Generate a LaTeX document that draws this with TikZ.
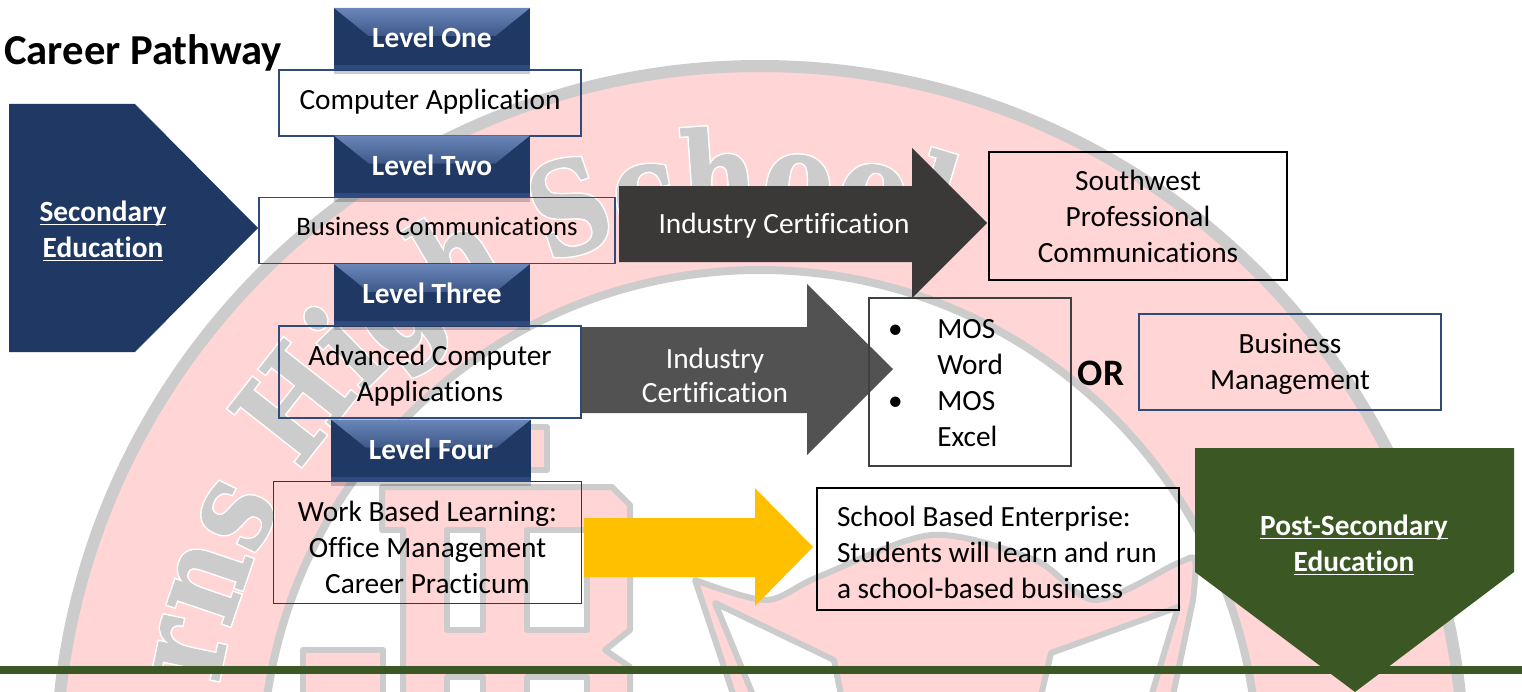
\documentclass[tikz,border=0pt]{standalone}
\usepackage{fontspec}
\setmainfont[Ligatures=NoCommon]{Carlito}
\newfontfamily\crestfont[FakeStretch=0.82,FakeBold=0.6]{DejaVu Serif Bold}
\newfontfamily\cresthalo[FakeStretch=0.82,FakeBold=3]{DejaVu Serif Bold}
\usetikzlibrary{positioning,shadows,decorations.text}
\definecolor{navy}{HTML}{1F3864}
\definecolor{navyline}{HTML}{2F4B7C}
\definecolor{navytop}{HTML}{6A86BA}
\definecolor{navylow}{HTML}{2E4A80}
\definecolor{forest}{HTML}{3B5724}
\definecolor{certdark}{HTML}{3B3838}
\definecolor{certmid}{HTML}{525252}
\definecolor{certgold}{HTML}{FFC000}
\definecolor{crestpink}{HTML}{FFD5D5}
\definecolor{crestgrey}{HTML}{CCCCCC}
\newcommand{\ulword}[1]{\setbox0=\hbox{#1}\rlap{\rule[-3pt]{\wd0}{1.3pt}}\box0}
\newcommand{\shifted}[2]{\raisebox{#1}[0pt][0pt]{\begin{tabular}{@{}c@{}}#2\end{tabular}}}
\newcommand{\shiftedl}[2]{\raisebox{#1}[0pt][0pt]{\begin{tabular}{@{}l@{}}#2\end{tabular}}}
\tikzset{
crest/.style={draw=crestgrey, line width=4.5pt, fill=crestpink, line join=round},
hole/.style={draw=crestgrey, line width=4.5pt, fill=white, line join=round},
pathbox/.style 2 args={
  draw=#1,
  line width=0.8pt,
  align=center,
  inner sep=0pt,
  font=\fontsize{22}{27}\selectfont,
  text=black,
  minimum width=#2
  },
high/.style={minimum height=#1},
levelbox/.style={
  rectangle,
  fill=navy,
  inner sep=0pt,
  text=white,
  font=\bfseries\fontsize{22}{27}\selectfont,
  minimum width=147pt,
  minimum height=46.5pt,
  drop shadow={shadow xshift=0pt, shadow yshift=-3pt, opacity=0.2, fill=black},
  path picture={
    \shade[top color=navytop, bottom color=navy, middle color=navytop!35!navy]
      (path picture bounding box.north west) -- (path picture bounding box.north east)
      -- ([shift={(-26pt,-21pt)}]path picture bounding box.north east)
      -- ([shift={(26pt,-21pt)}]path picture bounding box.north west) -- cycle;
    \fill[navylow] (path picture bounding box.south west) rectangle ([yshift=3.5pt]path picture bounding box.south east);
  }
  },
labelwhite/.style={text=white, align=center, inner sep=0pt, font=\fontsize{22}{25.5}\selectfont},
edutext/.style={text=white, align=center, inner sep=0pt, font=\bfseries\fontsize{22}{27}\selectfont}
}

\begin{document}
\begin{tikzpicture}[x=0.75pt,y=0.75pt,yscale=-1,xscale=1]
\useasboundingbox (0,0) rectangle (1522,692);
\fill[white] (0,0) rectangle (1522,692);

% crest behind the chart
\begin{scope}
\clip (0,0) rectangle (1522,692);
\draw[crest, line width=9pt] (760,770) circle [radius=704];
\draw[hole, line width=6pt] (760,768) circle [radius=498];

\draw[crest] plot [smooth] coordinates {(695,580) (766,600) (818,577) (932,535) (1035,560) (1095,600) (1178,563) (1195,560) (1193,600)} -- (1172,700) -- (735,700) -- cycle;
\draw[hole] (715,603) -- (834,660) -- (842,700) -- (755,700) -- cycle;
\draw[hole] (1178,607) -- (1051,653) -- (1040,700) -- (1150,700) -- cycle;

\draw[crest] (500,427) -- (547,427) -- (547,470) -- (500,470) -- cycle;
\draw[crest] (382,487) -- (612,487) -- (630,505) -- (630,630) -- (605,650) -- (630,667) -- (630,700) -- (403,700) -- (403,530) -- (382,530) -- cycle;
\draw[hole] (447,530) rectangle (483,630);
\draw[hole] (527,530) rectangle (587,630);
\draw[hole] (447,677) rectangle (483,700);
\draw[hole] (527,677) rectangle (587,700);
\draw[crest] (303,650) rectangle (383,700);

\path[decorate, decoration={text along path, text align=fit to path, text color=white,
  text={|\cresthalo\fontsize{96}{96}\selectfont|rns High School}}]
  ([shift={(189:548)}]760,770) arc [start angle=189, end angle=289, radius=548];
\path[decorate, decoration={text along path, text align=fit to path, text color=crestgrey,
  text={|\crestfont\fontsize{96}{96}\selectfont|rns High School}}]
  ([shift={(189:548)}]760,770) arc [start angle=189, end angle=289, radius=548];
\end{scope}

\fill[forest] (0,666) rectangle (1522,674);

% outcome arrows
\fill[navy] (9,104) -- (135,104) -- (258,228) -- (135,352) -- (9,352) -- cycle;
\fill[forest] (1195,448) -- (1514,448) -- (1514,572) -- (1355,692) -- (1195,572) -- cycle;
\fill[certdark] (619,186) -- (912,186) -- (912,148) -- (987,223) -- (912,298) -- (912,262) -- (619,262) -- cycle;
\fill[certmid] (581,327) -- (807,327) -- (807,284) -- (893,369) -- (807,455) -- (807,413) -- (581,413) -- cycle;
\fill[certgold] (584,518) -- (755,518) -- (755,488) -- (813,547) -- (755,606) -- (755,577) -- (584,577) -- cycle;

\node[anchor=west, inner sep=0pt, font=\bfseries\fontsize{32}{36}\selectfont] (title) at (4,53) {Career Pathway};

\node[edutext] (secondary) at (103,231) {\ulword{Secondary}\\\ulword{Education}};
\node[edutext] (postsecondary) at (1354,545) {\ulword{Post-Secondary}\\\ulword{Education}};

% course boxes
\node[pathbox={navyline}{226.5pt}, high=49.5pt] (boxone) at (430,103) {\shifted{-4.75pt}{Computer Application}};
\node[pathbox={navyline}{267pt}, high=50pt, font=\fontsize{20}{27}\selectfont] (boxtwo) at (437,230.5) {\shifted{-3.85pt}{Business Communications}};
\node[pathbox={navyline}{226.5pt}, high=69pt] (boxthree) at (430,372) {\shifted{-8.45pt}{Advanced Computer\\Applications}};
\node[pathbox={navy}{231.5pt}, high=92pt] (boxfour) at (427.5,542.5) {\shifted{-11.15pt}{Work Based Learning:\\Office Management\\Career Practicum}};

\node[levelbox] (levelone) at (432,39) {\shifted{-6.25pt}{Level One}};
\node[levelbox] (leveltwo) at (432,166.5) {\shifted{-6.65pt}{Level Two}};
\node[levelbox] (levelthree) at (432,295) {\shifted{-6.25pt}{Level Three}};
\node[levelbox, minimum width=150pt] (levelfour) at (431,450.5) {\shifted{-6.65pt}{Level Four}};

% certification labels
\node[labelwhite] (certone) at (784,226) {Industry Certification};
\node[labelwhite] (certtwo) at (715,375) {Industry\\Certification};

% targets
\node[pathbox={black}{223.5pt}, high=96pt] (southwest) at (1138,216) {Southwest\\Professional\\Communications};
\node[pathbox={black!75}{151.5pt}, high=126pt, align=flush left, text width=123pt] (mosbox) at (970,382)
  {\shiftedl{-7.7pt}{\makebox[37pt][l]{•}MOS\\\hspace*{37pt}Word\\\makebox[37pt][l]{•}MOS\\\hspace*{37pt}Excel}};
\node[inner sep=0pt, font=\bfseries\fontsize{28}{30}\selectfont] (ortext) at (1101,373) {OR};
\node[pathbox={navyline}{226.5pt}, high=72pt] (bizbox) at (1290,362) {\shifted{-6.95pt}{Business\\Management}};
\node[pathbox={black}{271.5pt}, high=91.5pt, align=flush left, text width=241.5pt] (schoolbox) at (998,549)
  {\shiftedl{-10pt}{School Based Enterprise:\\Students will learn and run\\a school-based business}};
\end{tikzpicture}
\end{document}
